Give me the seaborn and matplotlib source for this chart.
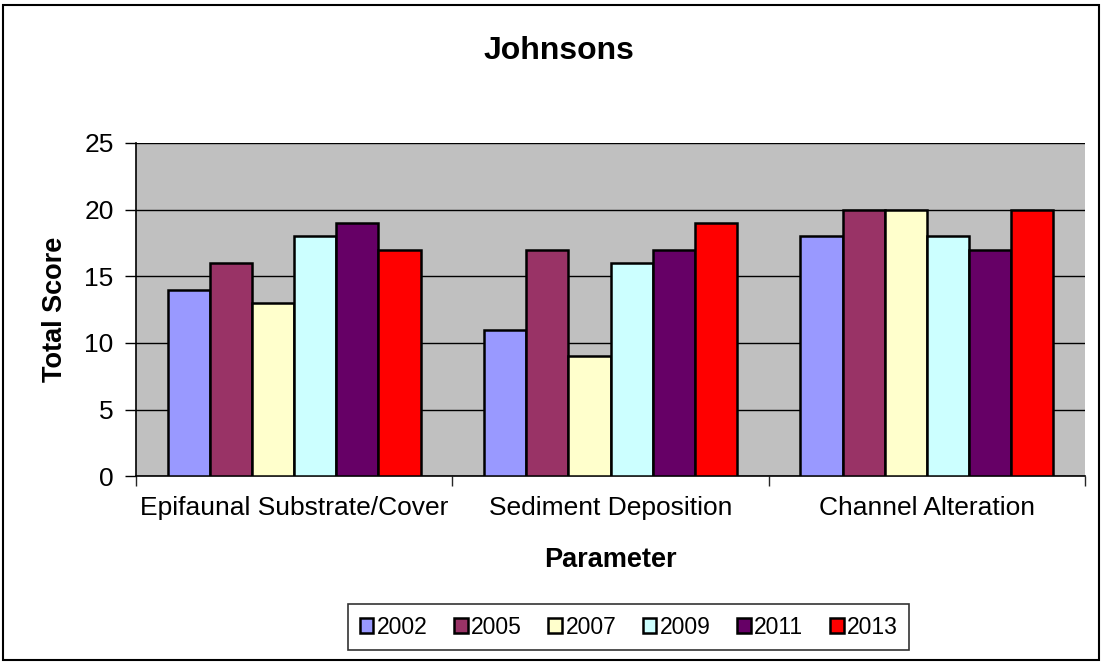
import pandas as pd
import matplotlib.pyplot as plt
import seaborn as sns
from matplotlib.patches import Rectangle

# chart data
parameters = ['Epifaunal Substrate/Cover', 'Sediment Deposition', 'Channel Alteration']
years = ['2002', '2005', '2007', '2009', '2011', '2013']
scores_2002 = [14, 11, 18]
scores_2005 = [16, 17, 20]
scores_2007 = [13, 9, 20]
scores_2009 = [18, 16, 18]
scores_2011 = [19, 17, 17]
scores_2013 = [17, 19, 20]
colors = ['#9999FF', '#993366', '#FFFFCC', '#CCFFFF', '#660066', '#FF0000']

series = [scores_2002, scores_2005, scores_2007, scores_2009, scores_2011, scores_2013]
rows = []
for year, vals in zip(years, series):
    for p, v in zip(parameters, vals):
        rows.append({'Parameter': p, 'Year': year, 'Score': v})
df = pd.DataFrame(rows)

sns.set_style('white')
plt.rcParams['font.family'] = ['Liberation Sans', 'DejaVu Sans']
plt.rcParams['text.color'] = 'black'
plt.rcParams['axes.labelcolor'] = 'black'

fig = plt.figure(figsize=(11.05, 6.65), dpi=100)
ax = fig.add_axes([0.123, 0.284, 0.859, 0.501])
ax.set_facecolor('#C0C0C0')

sns.barplot(data=df, x='Parameter', y='Score', hue='Year', order=parameters,
            hue_order=years, palette=dict(zip(years, colors)), saturation=1,
            edgecolor='black', linewidth=1.8, width=0.8, ax=ax, zorder=3)

ax.set_ylim(0, 25)
ax.set_yticks([0, 5, 10, 15, 20, 25])
ax.set_xlim(-0.5, 2.5)
ax.yaxis.grid(True, color='black', linewidth=1, zorder=0)
ax.set_axisbelow(True)
for s in ['top', 'right']:
    ax.spines[s].set_visible(False)
for s in ['left', 'bottom']:
    ax.spines[s].set_color('black')
    ax.spines[s].set_linewidth(1.2)

ax.tick_params(axis='y', labelsize=19, length=8, width=1, pad=8, direction='out', left=True, colors='black')
ax.tick_params(axis='x', labelsize=19, length=0, pad=14, colors='black')
ax.set_xticks([-0.5, 0.5, 1.5, 2.5], minor=True)
ax.tick_params(axis='x', which='minor', length=7, width=1, direction='out', bottom=True)

fig.text(0.506, 0.924, 'Johnsons', fontsize=23, fontweight='bold', ha='center', va='center')
ax.set_xlabel('Parameter', fontsize=19.5, fontweight='bold', labelpad=20)
ax.set_ylabel('Total Score', fontsize=19.5, fontweight='bold', labelpad=12)

ax.legend_.remove()
handles, labels = ax.get_legend_handles_labels()
leg = fig.legend(handles, labels, loc='center', bbox_to_anchor=(0.569, 0.057), ncol=6,
                 fontsize=16.5, frameon=True, fancybox=False, edgecolor='black',
                 handlelength=0.6, handleheight=0.6, handletextpad=0.15,
                 columnspacing=1.15, borderpad=0.5)
leg.get_frame().set_linewidth(1.2)

# outer chart border
fig.patches.append(Rectangle((0.003, 0.008), 0.992, 0.984, transform=fig.transFigure,
                             fill=False, edgecolor='black', linewidth=1.5))

fig.savefig('out.png', dpi=100)
